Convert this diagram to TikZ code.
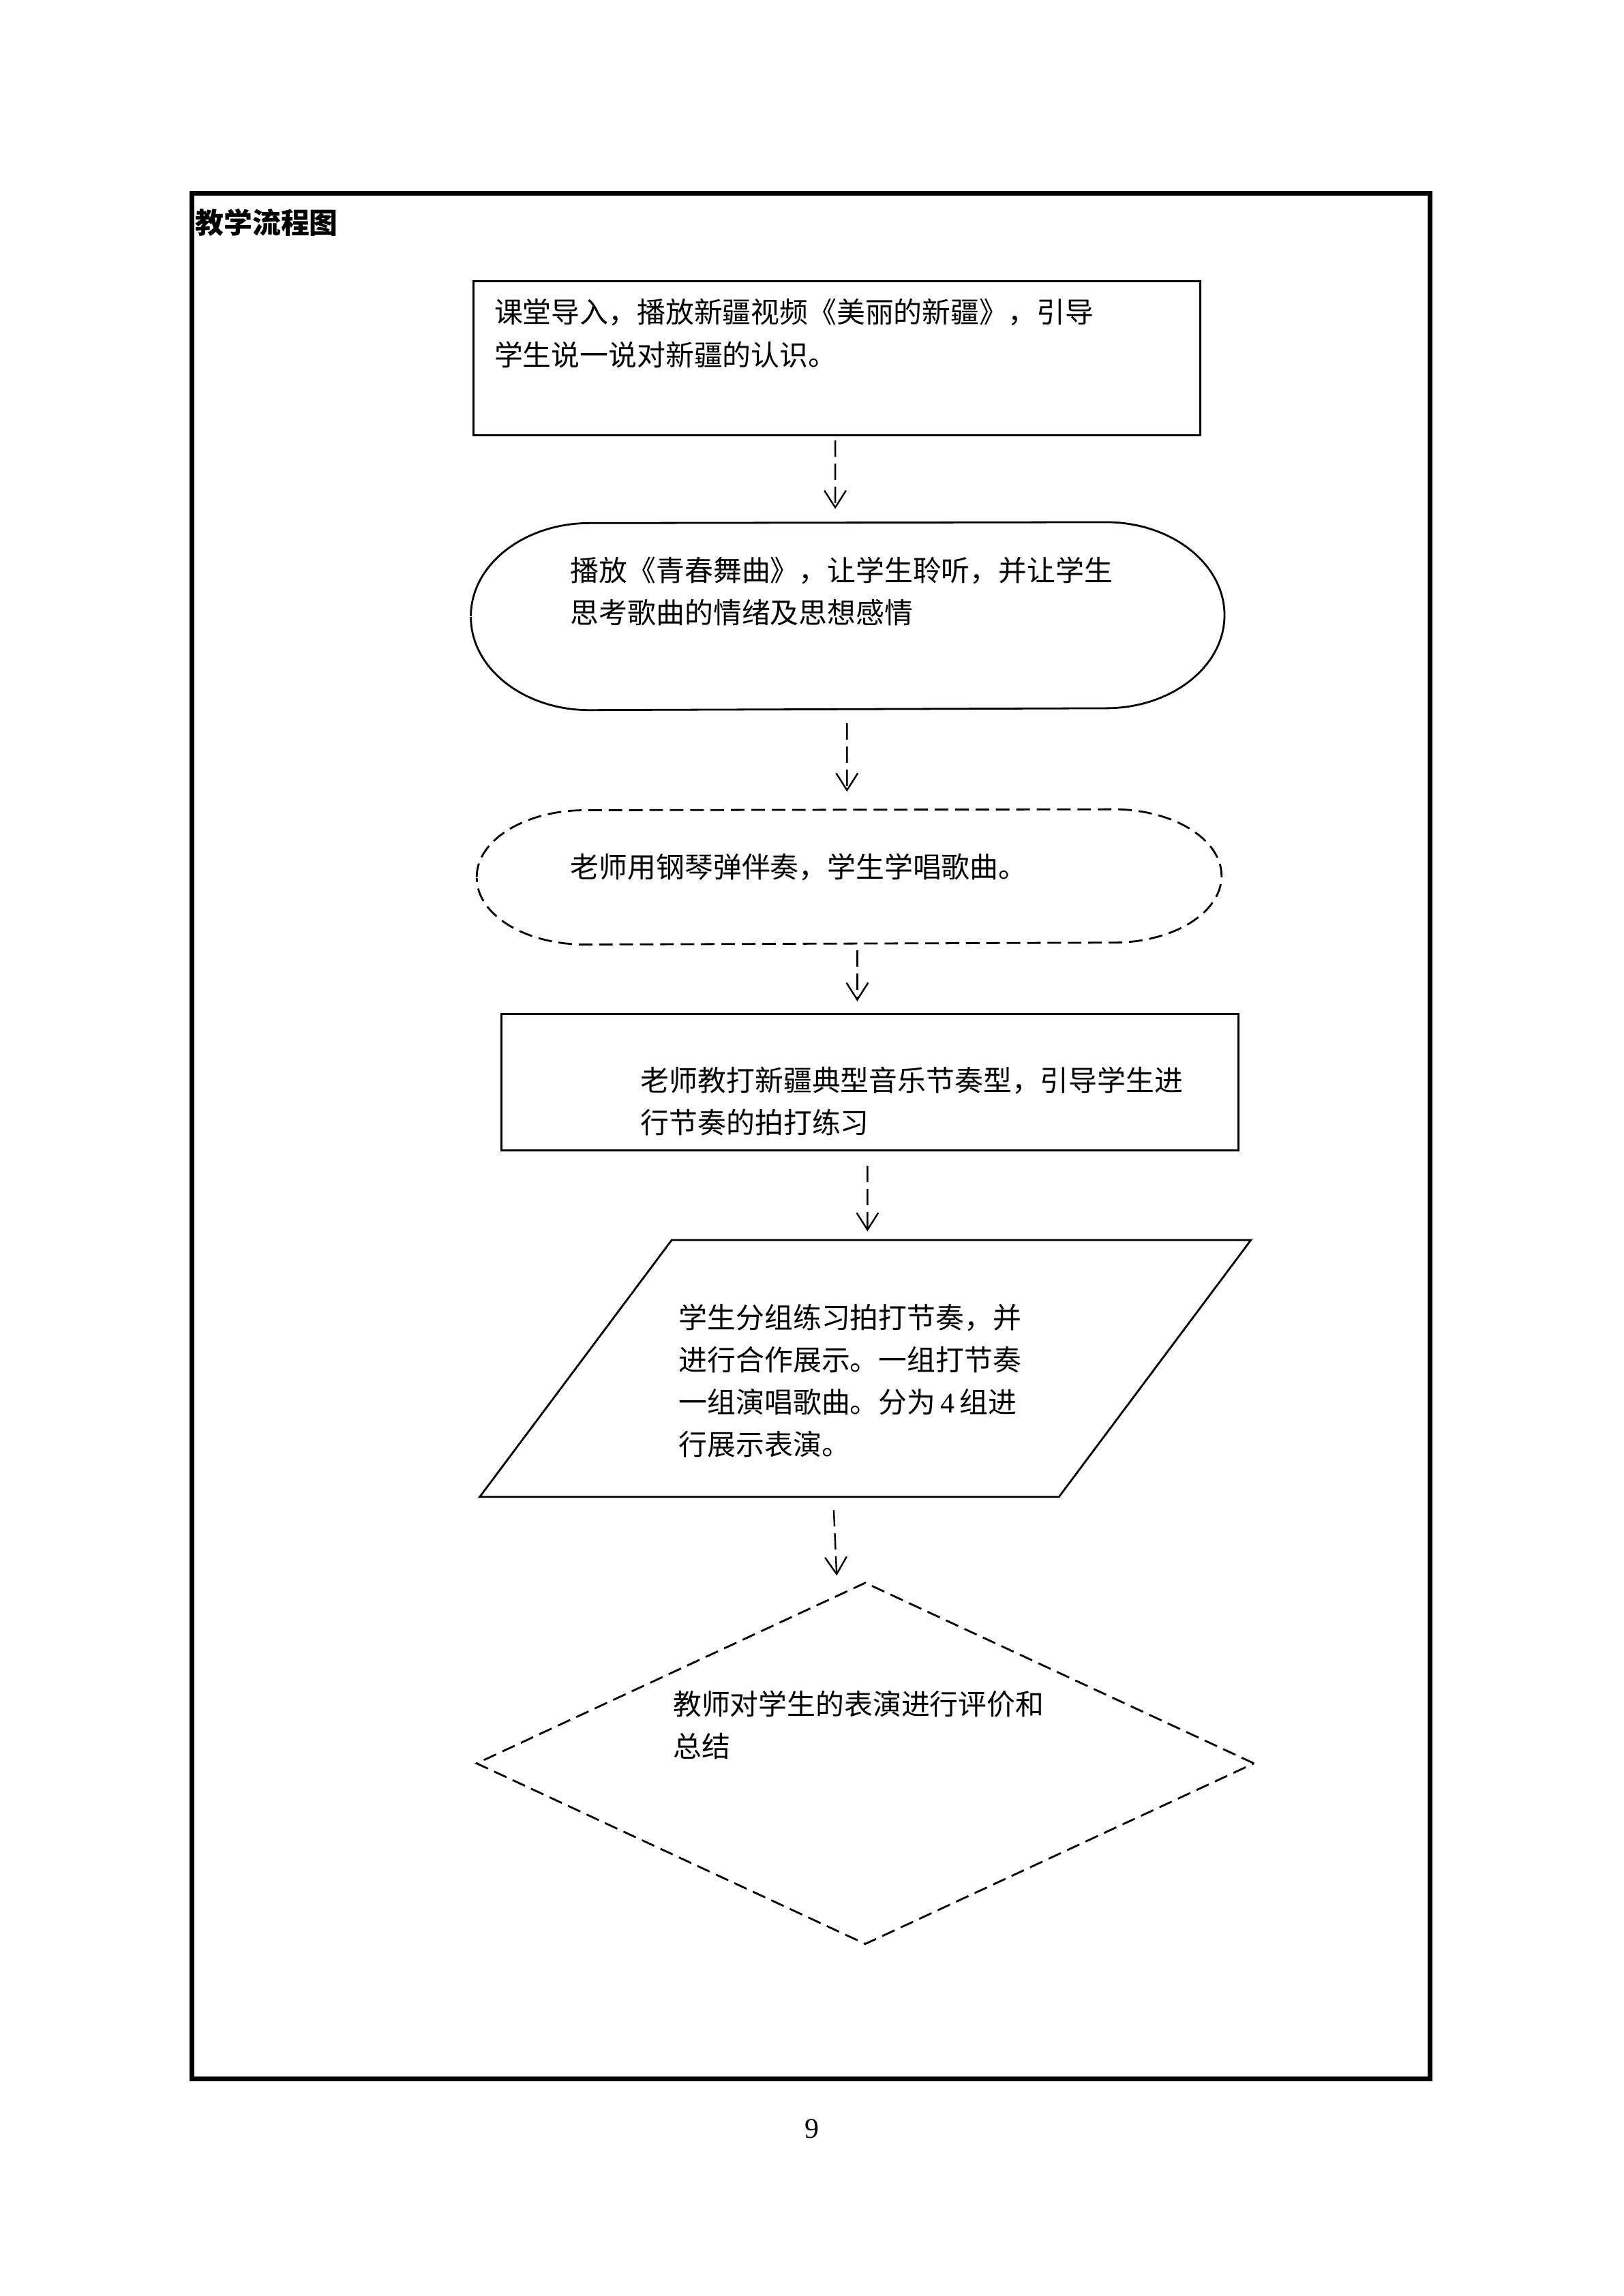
\documentclass[tikz,border=0pt]{standalone}
\usepackage{fontspec}
\setmainfont{Liberation Serif}
\newfontfamily\cjk{Noto Sans CJK SC}
\usepackage{tikz}
\usetikzlibrary{shapes,arrows.meta,positioning,calc}

\begin{document}
\begin{tikzpicture}[
    box/.style={rectangle, minimum width=#1, inner sep=0pt, line width=0.7pt},
    txt/.style={anchor=west, align=left, inner sep=0pt, font=\cjk\fontsize{10.5}{15.6}\selectfont},
    flow/.style={-{Straight Barb[length=2.2mm,width=2.8mm]}, line width=0.6pt, dash pattern=on 6pt off 2.5pt},
    dash line/.style={dash pattern=on 5pt off 2.5pt}
]
        \fill[white] (0,0) rectangle (21,-29.7);
        \useasboundingbox (0,0) rectangle (21,-29.7);
        \draw[line width=1.8pt] (2.483,-2.502) rectangle (18.498,-26.894);
        \node[txt, font=\cjk\bfseries\fontsize{10.5}{15.6}\selectfont] (title) at (2.52,-2.88) {教学流程图};

        % shapes
        \node[box=9.401cm, minimum height=1.990cm, draw] (intro) at (10.822,-4.634) {};
        \node[box=9.723cm, minimum height=2.407cm] (listen) at (10.964,-7.970) {};
        \draw[line width=0.7pt, line join=round] (listen.west)
            arc[start angle=180, end angle=90, x radius=1.535cm, y radius=1.2035cm]
            -- ([xshift=-1.535cm]listen.north east)
            arc[start angle=90, end angle=-90, x radius=1.535cm, y radius=1.2035cm]
            -- ([xshift=1.535cm]listen.south west)
            arc[start angle=270, end angle=180, x radius=1.535cm, y radius=1.2035cm];
        \node[box=9.609cm, minimum height=1.725cm] (sing) at (10.983,-11.343) {};
        \draw[line width=0.7pt, line join=round, dash line] (sing.west)
            arc[start angle=180, end angle=90, x radius=1.40cm, y radius=0.8625cm]
            -- ([xshift=-1.40cm]sing.north east)
            arc[start angle=90, end angle=-90, x radius=1.40cm, y radius=0.8625cm]
            -- ([xshift=1.40cm]sing.south west)
            arc[start angle=270, end angle=180, x radius=1.40cm, y radius=0.8625cm];
        \node[box=9.533cm, minimum height=1.763cm, draw] (rhythm) at (11.249,-13.997) {};
        \node[box=9.950cm, minimum height=3.298cm] (group) at (11.192,-17.702) {};
        \draw[line width=0.7pt] ([xshift=2.483cm]group.north west) -- (group.north east)
            -- ([xshift=-2.483cm]group.south east) -- (group.south west) -- cycle;
        \node[diamond, draw, dash line, line width=0.7pt, inner sep=0pt,
              minimum width=10.064cm, minimum height=4.681cm] (review) at (11.192,-22.810) {};

        % texts
        \node[txt] (introtxt) at (6.387,-4.312) {课堂导入，播放新疆视频《美丽的新疆》，引导\\学生说一说对新疆的认识。};
        \node[txt] (listentxt) at (7.373,-7.648) {播放《青春舞曲》，让学生聆听，并让学生\\思考歌曲的情绪及思想感情};
        \node[txt] (singtxt) at (7.373,-11.220) {老师用钢琴弹伴奏，学生学唱歌曲。};
        \node[txt] (rhythmtxt) at (8.282,-14.243) {老师教打新疆典型音乐节奏型，引导学生进\\行节奏的拍打练习};
        \node[txt] (grouptxt) at (8.775,-17.863) {学生分组练习拍打节奏，并\\进行合作展示。一组打节奏\\一组演唱歌曲。分为\,\textrm{4}\,组进\\行展示表演。};
        \node[txt] (reviewtxt) at (8.699,-22.317) {教师对学生的表演进行评价和\\总结};

        % arrows
        \draw[flow] ([xshift=-0.019cm,yshift=-0.057cm]intro.south) -- ([xshift=-0.161cm,yshift=0.170cm]listen.north);
        \draw[flow] ([xshift=-0.009cm,yshift=-0.171cm]listen.south) -- ([xshift=-0.028cm,yshift=0.227cm]sing.north);
        \draw[flow] ([xshift=0.105cm,yshift=-0.076cm]sing.south) -- ([xshift=-0.161cm,yshift=0.151cm]rhythm.north);
        \draw[flow] ([xshift=-0.029cm,yshift=-0.190cm]rhythm.south) -- ([xshift=0.028cm,yshift=0.113cm]group.north);
        \draw[flow] ([xshift=-0.408cm,yshift=-0.171cm]group.south) -- ([xshift=-0.370cm,yshift=0.076cm]review.north);

        \node[font=\fontsize{10.5}{12}\selectfont] (pagenum) at (10.5,-27.539) {9};
    \end{tikzpicture}
\end{document}
